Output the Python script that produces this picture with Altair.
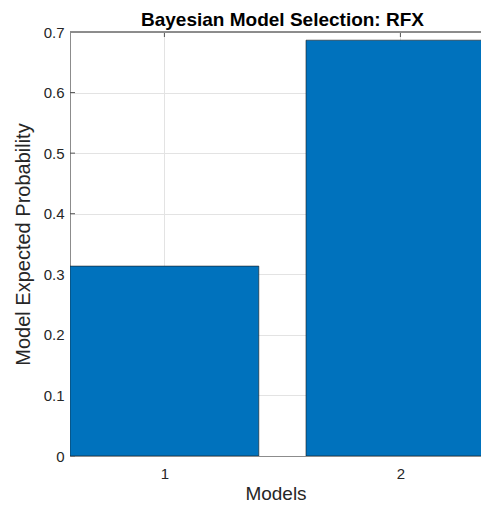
import altair as alt
import pandas as pd

# ---- data ----
models = [1, 2]
probabilities = [0.3135, 0.6865]
y_tick_values = [0, 0.1, 0.2, 0.3, 0.4, 0.5, 0.6, 0.7]
x_tick_values = [1, 2]
title_text = "Bayesian Model Selection: RFX"
x_title = "Models"
y_title = "Model Expected Probability"
bar_width = 0.8

# ---- styling ----
W, H = 411, 424
FONT = "Liberation Sans"
AXIS_GRAY = "#8c8c8c"
TEXT = "#262626"
GRID = "#e3e3e3"
TICK = "#555555"

bars_df = pd.DataFrame({"model": models, "prob": probabilities})
bars_df["left"] = bars_df["model"] - bar_width / 2
bars_df["right"] = bars_df["model"] + bar_width / 2
ytick_df = pd.DataFrame({"v": y_tick_values})
xtick_df = pd.DataFrame({"v": x_tick_values})

xscale = alt.Scale(domain=[0.6, 2.3415], nice=False, zero=False)
yscale = alt.Scale(domain=[0, 0.7], nice=False, zero=True)

x_axis = alt.Axis(values=x_tick_values, title=x_title, format="d", grid=True,
                  gridColor=GRID, tickSize=0, labelPadding=10, titlePadding=3,
                  labelFontSize=15, titleFontSize=19, titleFontWeight="normal",
                  domainColor=AXIS_GRAY, labelColor=TEXT, titleColor=TEXT,
                  labelFont=FONT, titleFont=FONT)
y_axis = alt.Axis(values=y_tick_values, title=y_title, format="~g", grid=True,
                  gridColor=GRID, tickSize=0, labelPadding=6, titlePadding=10,
                  labelFontSize=15, titleFontSize=20, titleFontWeight="normal",
                  domainColor=AXIS_GRAY, labelColor=TEXT, titleColor=TEXT,
                  labelFont=FONT, titleFont=FONT)

bars = alt.Chart(bars_df).mark_bar(
    color="#0072BD", stroke="#1a1a1a", strokeWidth=0.6, clip=True
).encode(
    x=alt.X("left:Q", scale=xscale, axis=x_axis, title=x_title),
    x2="right",
    y=alt.Y("prob:Q", scale=yscale, axis=y_axis, title=y_title),
    y2=alt.datum(0),
)

yticks = alt.Chart(ytick_df).mark_rule(color=TICK, strokeWidth=1).encode(
    y=alt.Y("v:Q", scale=yscale, axis=y_axis, title=y_title),
    x=alt.value(0), x2=alt.value(5),
)
xticks_bottom = alt.Chart(xtick_df).mark_rule(color=TICK, strokeWidth=1).encode(
    x=alt.X("v:Q", scale=xscale, axis=x_axis, title=x_title),
    y=alt.value(H), y2=alt.value(H - 5),
)
xticks_top = alt.Chart(xtick_df).mark_rule(color=TICK, strokeWidth=1).encode(
    x=alt.X("v:Q", scale=xscale, axis=x_axis, title=x_title),
    y=alt.value(0), y2=alt.value(5),
)
top_border = alt.Chart(ytick_df).mark_rule(color=AXIS_GRAY, strokeWidth=1).encode(
    y=alt.datum(max(y_tick_values), scale=yscale),
    x=alt.value(0), x2=alt.value(W),
)

chart = alt.layer(yticks, xticks_bottom, xticks_top, top_border, bars).properties(
    width=W, height=H,
    autosize="none",
    padding={"left": 62, "top": 24, "right": 0, "bottom": 48},
    title=alt.TitleParams(title_text, font=FONT, fontSize=19, fontWeight="bold",
                          color="#000000", anchor="middle", offset=3, dx=7, dy=7.5),
).configure_view(strokeWidth=0)

chart.save("out.html", embed_options={"renderer": "svg", "actions": False})
